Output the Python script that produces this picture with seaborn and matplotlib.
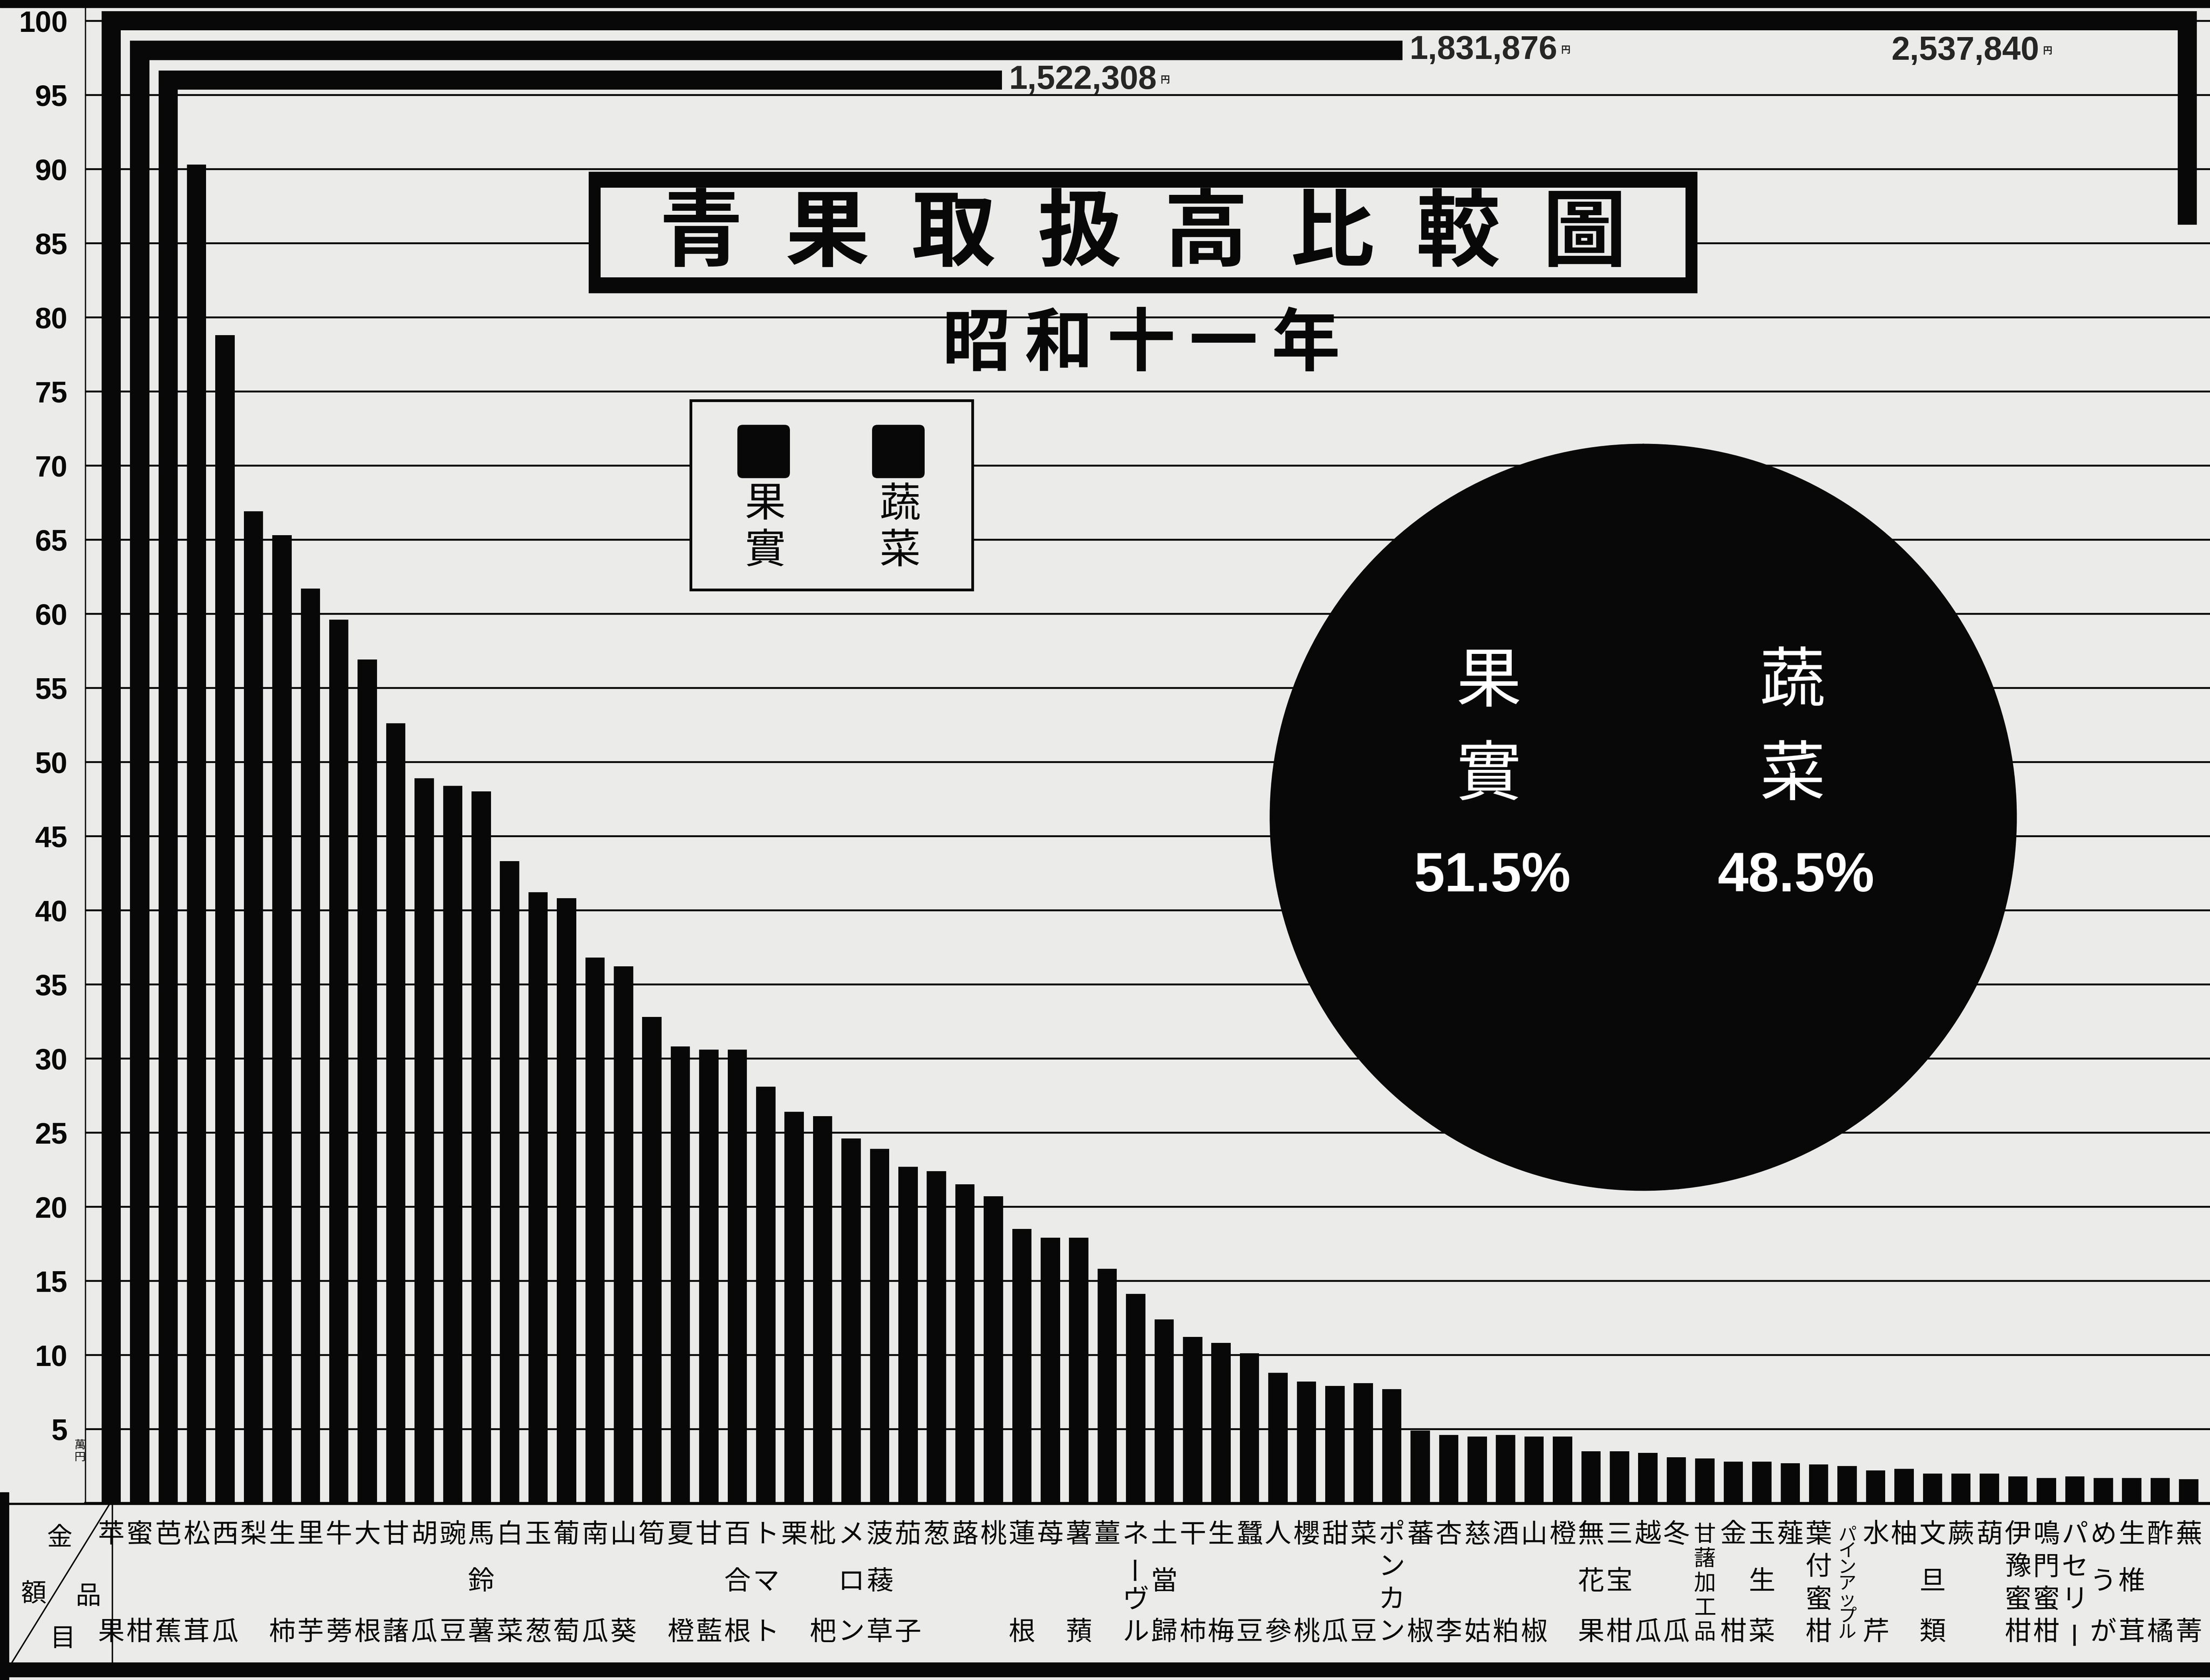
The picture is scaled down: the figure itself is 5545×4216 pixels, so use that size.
import numpy as np
import pandas as pd
import matplotlib.pyplot as plt
import matplotlib.transforms as mtransforms
from matplotlib.patches import Rectangle, FancyBboxPatch
from matplotlib.lines import Line2D
import seaborn as sns

# 青果取扱高比較圖 昭和十一年  (amounts in 萬円)
items = ['苹果', '蜜柑', '芭蕉', '松茸', '西瓜', '梨', '生柿', '里芋', '牛蒡', '大根',
         '甘藷', '胡瓜', '豌豆', '馬鈴薯', '白菜', '玉葱', '葡萄', '南瓜', '山葵', '筍',
         '夏橙', '甘藍', '百合根', 'トマト', '栗', '枇杷', 'メロン', '菠薐草', '茄子', '葱',
         '蕗', '桃', '蓮根', '苺', '薯蕷', '薑', 'ネーヴル', '土當歸', '干柿', '生梅',
         '蠶豆', '人參', '櫻桃', '甜瓜', '菜豆', 'ポンカン', '蕃椒', '杏李', '慈姑', '酒粕',
         '山椒', '橙', '無花果', '三宝柑', '越瓜', '冬瓜', '甘藷加工品', '金柑', '玉生菜', '薤',
         '葉付蜜柑', 'パインアップル', '水芹', '柚', '文旦類', '蕨', '葫', '伊豫蜜柑', '鳴門蜜柑', 'パセリー',
         'めうが', '生椎茸', '酢橘', '蕪菁']
values = [253.784, 183.1876, 152.2308, 90.3, 78.8, 66.9, 65.3, 61.7, 59.6, 56.9,
          52.6, 48.9, 48.4, 48.0, 43.3, 41.2, 40.8, 36.8, 36.2, 32.8,
          30.8, 30.6, 30.6, 28.1, 26.4, 26.1, 24.6, 23.9, 22.7, 22.4,
          21.5, 20.7, 18.5, 17.9, 17.9, 15.8, 14.1, 12.4, 11.2, 10.8,
          10.1, 8.8, 8.2, 7.9, 8.1, 7.7, 4.9, 4.6, 4.5, 4.6,
          4.5, 4.5, 3.5, 3.5, 3.4, 3.1, 3.0, 2.8, 2.8, 2.7,
          2.6, 2.5, 2.2, 2.3, 2.0, 2.0, 2.0, 1.8, 1.7, 1.8,
          1.7, 1.7, 1.7, 1.6]
yticks = list(range(5, 101, 5))
pie_labels = ['果實', '蔬菜']
pie_shares = [51.5, 48.5]

paper = '#ebebea'
ink = '#080808'

sns.set_theme(style='white')
plt.rcParams['font.family'] = ['Noto Sans CJK JP', 'DejaVu Sans']

W, H = 5545, 4216
fig = plt.figure(figsize=(W / 100, H / 100), dpi=100, facecolor=paper)
# pixel coordinates of the sheet, origin top-left
pix = mtransforms.Affine2D().scale(1 / W, -1 / H).translate(0, 1) + fig.transFigure

ax_left, ax_base = 214, 3772
ax = fig.add_axes([ax_left / W, 1 - ax_base / H, 1 - ax_left / W, ax_base / H])
ax.set_facecolor('none')
xlim = (-0.91, 73.75)
ylim = (0, 101.4)
bar_w = 0.68

# scale between the two axes, used to fold the three long bars
px_x = (W - ax_left) / (xlim[1] - xlim[0])
px_y = ax_base / (ylim[1] - ylim[0])
k = px_y / px_x            # category units per 萬円
th = bar_w * px_x / px_y   # band thickness in 萬円
fold_levels = [100.0, 98.0, 96.0]
x_turn = xlim[1] - 0.8

plot_vals = list(values)
for i, lvl in enumerate(fold_levels):
    plot_vals[i] = min(values[i], lvl + th / 2)

df = pd.DataFrame({'品目': items, '金額': plot_vals})
sns.barplot(data=df, x='品目', y='金額', order=items, color=ink, saturation=1,
            width=bar_w, linewidth=0, ax=ax, zorder=2)

# long bars bent to the right
for i, lvl in enumerate(fold_levels):
    v = values[i]
    x0 = i - bar_w / 2
    x_end = i + (v - lvl) * k
    amount = f'{round(v * 1e4):,}'
    if x_end > x_turn:
        drop = (x_end - x_turn) / k
        ax.barh(lvl, x_turn + bar_w / 2 - x0, left=x0, height=th, color=ink, lw=0, zorder=2)
        ax.bar(x_turn, drop + th / 2, bottom=lvl - drop, width=bar_w, color=ink, lw=0, zorder=2)
        t = ax.text(x_turn - 5.2, lvl - th / 2 - 0.35, amount, ha='right', va='top',
                    fontsize=60, fontweight='bold', family='Liberation Sans', zorder=3)
    else:
        ax.barh(lvl, x_end - x0, left=x0, height=th, color=ink, lw=0, zorder=2)
        t = ax.text(x_end + 0.25, lvl, amount, ha='left', va='center',
                    fontsize=60, fontweight='bold', family='Liberation Sans', zorder=3)
    ax.annotate('円', xy=(1, 0.5), xycoords=t, xytext=(6, 0), textcoords='offset points',
                ha='left', va='center', fontsize=17, fontweight='bold')

ax.set_xlim(xlim)
ax.set_ylim(ylim)
ax.set_yticks(yticks)
ax.set_yticklabels([str(v) for v in yticks])
for t in ax.get_yticklabels():
    t.set_fontfamily('Liberation Sans')
    t.set_fontweight('bold')
ax.tick_params(axis='y', length=0, pad=32, labelsize=53, labelcolor=ink)
ax.set_xticks(range(len(items)))
ax.set_xticklabels([])
ax.tick_params(axis='x', length=0)
ax.set_xlabel('')
ax.set_ylabel('')
ax.grid(False)
ax.yaxis.grid(True, color=ink, lw=3.4)
ax.set_axisbelow(True)
for side in ['top', 'right']:
    ax.spines[side].set_visible(False)
ax.spines['left'].set_color(ink)
ax.spines['left'].set_linewidth(2.4)
ax.spines['bottom'].set_color(ink)
ax.spines['bottom'].set_linewidth(4)

# unit under the 5 mark
fig.text(200, 3642, '萬\n円', transform=pix, ha='center', va='center',
         fontsize=20, linespacing=1.0, color=ink)

# sheet frame and the name table below the bars
fig.add_artist(Rectangle((0, 0), W, 19, transform=pix, color=ink, zorder=5))
fig.add_artist(Rectangle((0, 3745), 22, H - 3745, transform=pix, color=ink, zorder=5))
fig.add_artist(Rectangle((0, 4172), W, 36, transform=pix, color=ink, zorder=5))
fig.add_artist(Line2D([0, W], [3774, 3774], transform=pix, color=ink, lw=4, zorder=5))
fig.add_artist(Line2D([282, 282], [3774, 4172], transform=pix, color=ink, lw=2.6, zorder=5))
fig.add_artist(Line2D([30, 274], [4172, 3776], transform=pix, color=ink, lw=2.6, zorder=5))
for ch, (x, y) in zip('金額品目', [(150, 3860), (84, 4000), (222, 4007), (158, 4113)]):
    fig.text(x, y, ch, transform=pix, ha='center', va='center', fontsize=46, color=ink)

# item names written vertically under each bar
lab_tf = mtransforms.blended_transform_factory(ax.transData, pix)
row_top, row_mid, row_bot = 3852, 3970, 4097
for i, name in enumerate(items):
    n = len(name)
    if n == 1:
        ys = [row_top]
    elif n == 2:
        ys = [row_top, row_bot]
    elif n == 3:
        ys = [row_top, row_mid, row_bot]
    else:
        ys = np.linspace(row_top, row_bot, n)
    fs = 48 if n <= 4 else (40 if n == 5 else 33)
    for ch, y in zip(name, ys):
        ax.text(i, y, ch, transform=lab_tf, ha='center', va='center', fontsize=fs,
                rotation=90 if ch == 'ー' else 0, color=ink, clip_on=False)

# title block
fig.add_artist(Rectangle((1477, 431), 2782, 305, transform=pix, facecolor=ink, lw=0, zorder=3))
fig.add_artist(Rectangle((1507, 471), 2722, 225, transform=pix, facecolor=paper, lw=0, zorder=3))
fig.text(2868, 590, '\u2002'.join('青果取扱高比較圖'), transform=pix, ha='center', va='center',
         fontsize=152, fontweight='bold', color=ink, zorder=4)
fig.text(2863, 866, '\u2009'.join('昭和十一年'), transform=pix, ha='center', va='center',
         fontsize=124, fontweight='bold', color=ink, zorder=4)

# key box
fig.add_artist(Rectangle((1733, 1005), 707, 475, transform=pix, facecolor=paper,
                         edgecolor=ink, lw=5, zorder=3))
for cx, lab in zip([1916, 2254], pie_labels):
    fig.add_artist(FancyBboxPatch((cx - 66, 1066), 132, 134, boxstyle='round,pad=0,rounding_size=14',
                                  transform=pix, facecolor=ink, lw=0, zorder=4))
    for ch, y in zip(lab, [1267, 1383]):
        fig.text(cx + 4, y, ch, transform=pix, ha='center', va='center', fontsize=74,
                 color=ink, zorder=4)

# share circle
cx, cy, r = 4123, 2051, 940
pax = fig.add_axes([(cx - r) / W, 1 - (cy + r) / H, 2 * r / W, 2 * r / H])
pax.set_zorder(3)
pax.pie(pie_shares, colors=[ink, ink], startangle=90, counterclock=True, radius=1,
        wedgeprops=dict(linewidth=3, edgecolor=ink))
pax.set_xlim(-1.005, 1.005)
pax.set_ylim(-1.005, 1.005)
pax.set_aspect('equal')
pax.axis('off')
for lx, lab, share in zip([-0.415, 0.40], pie_labels, pie_shares):
    for ch, ly in zip(lab, [0.36, 0.11]):
        pax.text(lx, ly, ch, ha='center', va='center', fontsize=118, color='white')
    pax.text(lx + 0.01, -0.16, f'{share}%', ha='center', va='center', fontsize=100,
             fontweight='bold', family='Liberation Sans', color='white')

fig.savefig('out.png', dpi=100, facecolor=paper)
